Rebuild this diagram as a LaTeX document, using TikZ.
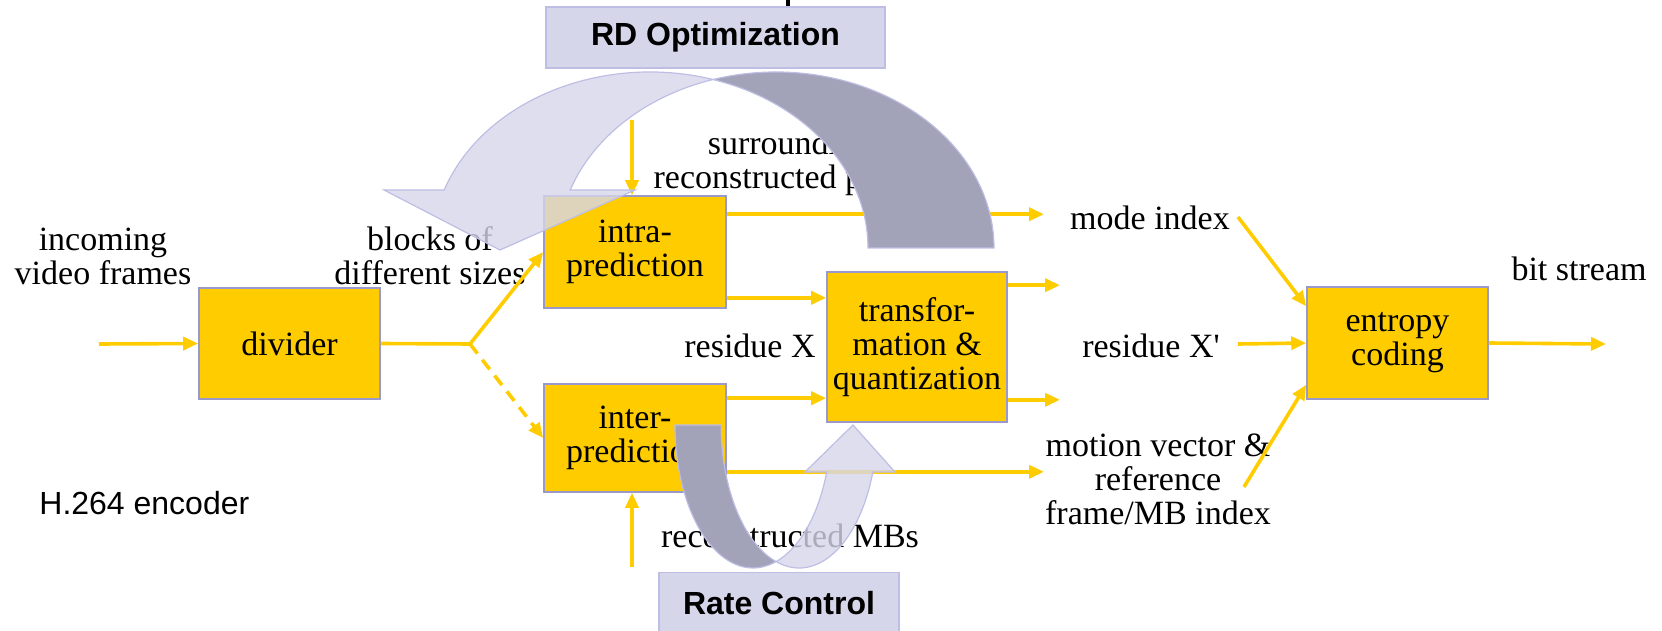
\documentclass[tikz,border=0pt]{standalone}
\usepackage{fontspec}
\setmainfont{Liberation Serif}
\setsansfont{Liberation Sans}
\usetikzlibrary{arrows.meta,positioning,calc}

\definecolor{boxyellow}{RGB}{255,204,0}
\definecolor{boxline}{RGB}{153,153,204}
\definecolor{lilac}{RGB}{214,214,235}
\definecolor{lilacdark}{RGB}{162,162,184}
\definecolor{lilacline}{RGB}{190,190,228}

\newcommand{\diagfont}{\fontsize{17}{17}\selectfont}
\newcommand{\ctrlfont}{\fontsize{16}{16}\selectfont\sffamily}

\tikzset{
>={Triangle[length=7.5pt,width=6.5pt]},
  block/.style={
    rectangle,
    fill=boxyellow,
    draw=boxline, line width=0.8pt,
    align=center,
    inner sep=0pt,
    font=\diagfont},
  ctrlbox/.style={
    rectangle,
    fill=lilac,
    draw=lilacline, line width=0.8pt,
    inner sep=0pt,
    font=\ctrlfont\bfseries},
  flow/.style={draw=boxyellow, line width=1.8pt, ->},
  lbl/.style={font=\diagfont, align=center, inner sep=0pt},
}

\begin{document}
\begin{tikzpicture}[
    x=0.5pt, y=-0.5pt,
    lightarrow/.style={fill=lilac, fill opacity=0.8, draw=lilacline, line width=0.6pt},
    darkarrow/.style={fill=lilacdark, draw=lilacline, line width=0.6pt},
    dashed flow/.style={flow, dash pattern=on 6pt off 4pt}
    ]
    \useasboundingbox (0,0) rectangle (1662,631);

    %blocks
    \node[block, minimum width=90.5pt, minimum height=55.5pt] (divider) at (289.5,343.5) {divider};
    \node[block, minimum width=91pt, minimum height=56pt] (intra) at (635,252) {intra-\\prediction};
    \node[block, minimum width=91pt, minimum height=54pt] (inter) at (635,438) {inter-\\prediction};
    \node[block, minimum width=90pt, minimum height=75pt] (trans) at (917,347) {transfor-\\mation \&\\quantization};
    \node[block, minimum width=90.5pt, minimum height=56pt] (entropy) at (1397.5,343) {entropy\\coding};

    %control boxes
    \node[ctrlbox, minimum width=169.5pt, minimum height=30.5pt] (rdo) at (715.5,37.5) {RD Optimization};
    \node[ctrlbox, minimum width=120pt, minimum height=30.5pt] (rate) at (779,603) {Rate Control};
    \fill[black] (786,0) rectangle (790,6);

    %labels
    \node[lbl] (incoming) at (103,256) {incoming\\video frames};
    \node[lbl] (blocks) at (430,256) {blocks of\\different sizes};
    \node[lbl] (surround) at (790,163) {surrounding\\reconstructed pixels};
    \node[lbl] (residue) at (750,346) {residue X};
    \node[lbl] (mode) at (1150,218) {mode index};
    \node[lbl] (residueq) at (1151,346) {residue X\textquotesingle};
    \node[lbl] (motion) at (1158,479) {motion vector \&\\reference\\frame/MB index};
    \node[lbl] (bits) at (1579,269) {bit stream};
    \node[lbl] (recmb) at (790,536) {reconstructed MBs};
    \node[anchor=west, inner sep=0pt, font=\ctrlfont] (encoder) at (39,503) {H.264 encoder};

    %free ends
    \coordinate (inStart) at (99,344);
    \coordinate (split) at (470,344);
    \coordinate (pixStart) at (632,120);
    \coordinate (mbStart) at (632,567);
    \coordinate (outA) at (1044,0);
    \coordinate (outB) at (1060,0);
    \coordinate (modeStart) at (1238,217);
    \coordinate (resStart) at (1238,344);
    \coordinate (mvStart) at (1244,487);
    \coordinate (bitEnd) at (1606,344);

    %connectors
    \draw[flow] (inStart) -- (divider.west);
    \draw[draw=boxyellow, line width=1.8pt] (divider.east) -- (split);
    \draw[flow] (split) -- (intra.west);
    \draw[dashed flow] (split) -- (inter.west);
    \draw[flow] (pixStart) -- (pixStart |- intra.north);
    \draw[flow] (mbStart) -- (mbStart |- inter.south);
    \draw[flow] ([yshift=-9.5pt]intra.north east) coordinate (c1) -- (c1 -| outA);
    \draw[flow] ([yshift=5.5pt]intra.south east) coordinate (c2) -- (c2 -| trans.west);
    \draw[flow] ([yshift=-7.5pt]inter.north east) coordinate (c3) -- (c3 -| trans.west);
    \draw[flow] ([yshift=10.5pt]inter.south east) coordinate (c4) -- (c4 -| outA);
    \draw[flow] ([yshift=-7pt]trans.north east) coordinate (c5) -- (c5 -| outB);
    \draw[flow] ([yshift=11.5pt]trans.south east) coordinate (c6) -- (c6 -| outB);
    \draw[flow] (modeStart) -- ([yshift=-10pt]entropy.north west);
    \draw[flow] (resStart) -- (entropy.west);
    \draw[flow] (mvStart) -- ([yshift=7.5pt]entropy.south west);
    \draw[flow] (entropy.east) -- (bitEnd);

    %RD optimization arrow
    \filldraw[lightarrow] (444.2,190) arc[start angle=199.24, end angle=286.8, x radius=218, y radius=176]
      arc[start angle=253.2, end angle=199.24, x radius=218, y radius=176]
      -- (635,190) -- (500,250) -- (384,190) -- cycle;
    \filldraw[darkarrow] (713,79.5) arc[start angle=253.2, end angle=360, x radius=218, y radius=176]
      -- (868,248) arc[start angle=0, end angle=-73.2, x radius=218, y radius=176] -- cycle;

    %rate control arrow
    \filldraw[darkarrow] (675,425) arc[start angle=180, end angle=72.8, x radius=78, y radius=143]
      arc[start angle=107.2, end angle=180, x radius=78, y radius=143] -- cycle;
    \filldraw[lightarrow] (776.1,561.6) arc[start angle=107.2, end angle=19.19, x radius=78, y radius=143]
      -- (895,472) -- (853,425) -- (805,472) -- (826.7,472)
      arc[start angle=19.19, end angle=72.8, x radius=78, y radius=143] -- cycle;

\end{tikzpicture}
\end{document}
